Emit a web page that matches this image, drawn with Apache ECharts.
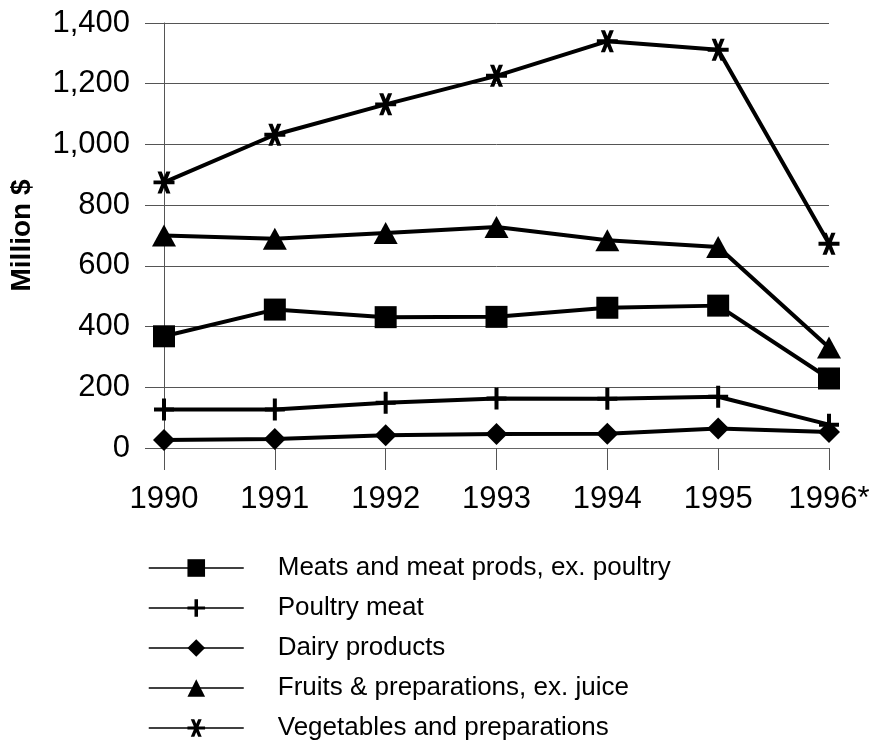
<!DOCTYPE html>
<html>
<head>
<meta charset="utf-8">
<script src="https://cdn.jsdelivr.net/npm/echarts@6/dist/echarts.min.js"></script>
<style>
html,body{margin:0;padding:0;background:#fff;}
#chart{width:875px;height:745px;}
</style>
</head>
<body>
<div id="chart"></div>
<script>
var categories = ['1990', '1991', '1992', '1993', '1994', '1995', '1996*'];
var yTicks = [0, 200, 400, 600, 800, 1000, 1200, 1400];
var seriesNames = [
  'Meats and meat prods, ex. poultry',
  'Poultry meat',
  'Dairy products',
  'Fruits & preparations, ex. juice',
  'Vegetables and preparations'
];
var meats = [368, 456, 431, 432, 462, 469, 229];
var poultry = [127, 127, 149, 163, 162, 169, 77];
var dairy = [26, 30, 42, 46, 47, 64, 53];
var fruits = [700, 689, 708, 728, 684, 662, 331];
var vegetables = [875, 1032, 1132, 1226, 1340, 1312, 673];

var FONT = '"Liberation Sans", Arial, sans-serif';
var plusPath = 'path://M8,0H12V9H20V13H12V22H8V13H0V9H8Z';
var starPath = 'path://M3.8,0H7.8L16.2,20H12.2ZM12.2,0H16.2L7.8,20H3.8ZM0,8.2H20V11.8H0Z';

function lineSeries(name, data, symbol, size) {
  return {
    name: name,
    type: 'line',
    data: data,
    symbol: symbol,
    symbolSize: size,
    showAllSymbol: true,
    lineStyle: { color: '#000', width: 4 },
    itemStyle: { color: '#000' },
    emphasis: { disabled: true }
  };
}

var chart = echarts.init(document.getElementById('chart'), null, { renderer: 'canvas' });
chart.setOption({
  animation: false,
  backgroundColor: '#fff',
  grid: { left: 164, right: 46, top: 23, bottom: 297, containLabel: false },
  xAxis: {
    type: 'category',
    data: categories,
    boundaryGap: false,
    axisLine: { show: true, lineStyle: { color: '#666', width: 1 } },
    axisTick: { show: true, length: 22, alignWithLabel: true, lineStyle: { color: '#555', width: 1 } },
    axisLabel: { color: '#000', fontSize: 31, fontFamily: FONT, margin: 36 },
    splitLine: { show: false }
  },
  yAxis: {
    type: 'value',
    min: yTicks[0],
    max: yTicks[yTicks.length - 1],
    interval: 200,
    name: 'Million $',
    nameLocation: 'middle',
    nameGap: 128,
    nameTextStyle: { color: '#000', fontSize: 28, fontWeight: 'bold', fontFamily: FONT },
    axisLine: { show: true, lineStyle: { color: '#555', width: 1 } },
    axisTick: { show: true, length: 19, lineStyle: { color: '#555', width: 1 } },
    axisLabel: {
      color: '#000', fontSize: 31, fontFamily: FONT, margin: 34,
      formatter: function (v) { return v.toLocaleString('en-US'); }
    },
    splitLine: { show: true, lineStyle: { color: '#555', width: 1 } }
  },
  legend: {
    orient: 'vertical',
    left: 148,
    top: 555,
    height: 240,
    padding: 0,
    itemWidth: 95,
    itemHeight: 22,
    itemGap: 14,
    data: seriesNames,
    selectedMode: false,
    lineStyle: { width: 1.5, color: '#000' },
    textStyle: { color: '#000', fontSize: 26, fontFamily: FONT, padding: [0, 0, 0, 29] }
  },
  series: [
    lineSeries(seriesNames[0], meats, 'rect', 22),
    lineSeries(seriesNames[1], poultry, plusPath, [20, 22]),
    lineSeries(seriesNames[2], dairy, 'diamond', [22, 22]),
    lineSeries(seriesNames[3], fruits, 'triangle', [24, 22]),
    lineSeries(seriesNames[4], vegetables, starPath, [21, 22])
  ]
});
</script>
</body>
</html>
